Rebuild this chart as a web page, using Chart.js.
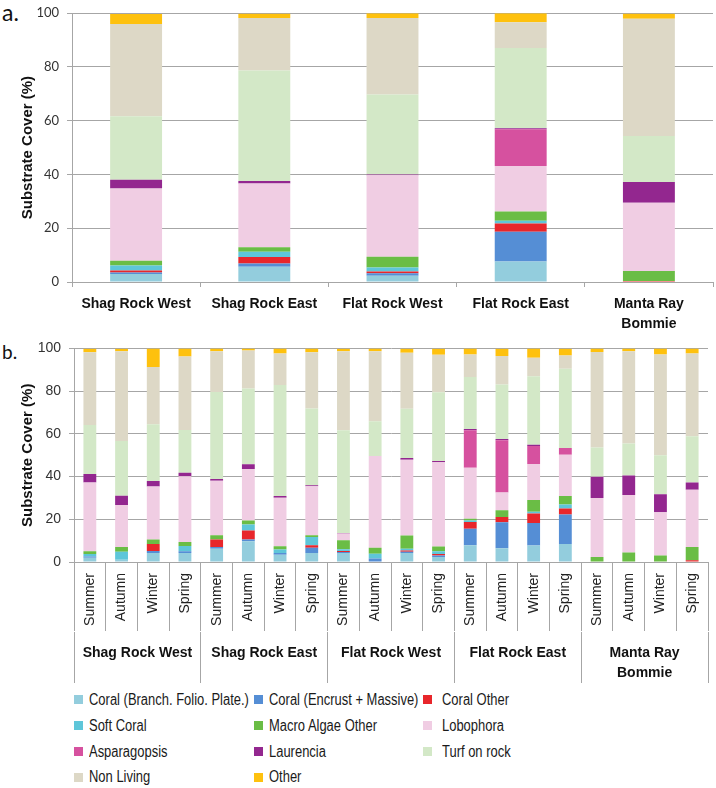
<!DOCTYPE html>
<html>
<head>
<meta charset="utf-8">
<script src="https://cdn.jsdelivr.net/npm/chart.js@4.4.1/dist/chart.umd.min.js"></script>
<style>
  body { margin: 0; background: #fff; width: 716px; height: 788px; overflow: hidden; position: relative; }
  #top { position: absolute; left: 0; top: 0; }
  #bottom { position: absolute; left: 0; top: 335px; }
  .panel { position: absolute; left: 2px; font-family: Lato, sans-serif; color: #111; line-height: 1; }
  /* narrow legend face: no Arial Narrow here, so squeeze Liberation Sans */
  .item { position: absolute; font-family: "Liberation Sans", sans-serif; font-size: 16px; color: #1a1a1a; white-space: nowrap; line-height: 18px; transform: scaleX(0.81); transform-origin: left center; }
  .box { position: absolute; width: 9px; height: 9px; }
</style>
</head>
<body>
<div class="panel" style="top:1px;font-size:23px">a.</div>
<div class="panel" style="top:342px;font-size:19px">b.</div>
<canvas id="top" width="716" height="335"></canvas>
<canvas id="bottom" width="716" height="355"></canvas>
<div id="legend"></div>
<script>
const sites = ['Shag Rock West', 'Shag Rock East', 'Flat Rock West', 'Flat Rock East', ['Manta Ray', 'Bommie']];
const seasons = ['Summer', 'Autumn', 'Winter', 'Spring'];
const seriesNames = ['Coral (Branch. Folio. Plate.)', 'Coral (Encrust + Massive)', 'Coral Other',
  'Soft Coral', 'Macro Algae Other', 'Lobophora', 'Asparagopsis', 'Laurencia',
  'Turf on rock', 'Non Living', 'Other'];
const colours = ['#93CDDD', '#558ED5', '#E8262B', '#5EC6D9', '#6ABD45', '#F0CDE3',
  '#D6519F', '#93278F', '#D3E8C7', '#DDD8C6', '#FEC10E'];

// a. mean cover per site (%)
const coralBranchSite  = [3.0, 5.7, 2.3, 7.6, 0];
const coralEncrustSite = [0.5, 1.2, 1.0, 11.1, 0];
const coralOtherSite   = [0.8, 2.4, 0.6, 3.1, 0.4];
const softCoralSite    = [1.8, 2.0, 1.5, 1.0, 0];
const macroAlgaeSite   = [1.8, 1.6, 4.0, 3.4, 3.7];
const lobophoraSite    = [26.9, 23.7, 30.3, 17.0, 25.4];
const asparagopsisSite = [0, 0, 0, 13.6, 0];
const laurenciaSite    = [3.2, 1.0, 0.3, 0.4, 7.7];
const turfSite         = [23.7, 41.1, 29.8, 29.9, 17.1];
const nonLivingSite    = [34.3, 19.5, 28.4, 9.5, 43.6];
const otherSite        = [3.7, 1.6, 1.8, 3.4, 1.9];

// b. cover per site and season (%), 4 seasons x 5 sites
const coralBranchSeason  = [2.0, 1.1, 4.2, 4.2, 6.2, 9.7, 3.4, 4.2, 4.2, 0, 4.2, 2.3, 7.8, 6.4, 7.7, 8.4, 0, 0, 0, 0];
const coralEncrustSeason = [0.6, 0, 0.9, 0.8, 0.8, 0.9, 0.8, 2.5, 0.5, 1.6, 0.6, 0.8, 7.8, 12.2, 10.6, 13.9, 0, 0, 0, 0];
const coralOtherSeason   = [0, 0, 3.3, 0, 3.6, 4.2, 0, 1.1, 0.5, 0, 0.6, 0.6, 3.1, 2.5, 4.4, 2.8, 0, 0, 0, 0.8];
const softCoralSeason    = [1.2, 3.7, 0, 2.5, 0, 2.8, 1.6, 3.9, 0.8, 2.3, 0.8, 1.3, 0.8, 0, 0.8, 1.9, 0, 0, 0, 0];
const macroAlgaeSeason   = [1.2, 2.2, 2.2, 1.9, 1.9, 1.9, 1.6, 0.8, 4.2, 2.8, 6.2, 2.3, 0.8, 3.1, 5.5, 3.9, 2.3, 4.5, 3.0, 6.2];
const lobophoraSeason    = [32.3, 19.7, 24.8, 30.8, 25.6, 24.1, 22.7, 23.0, 3.1, 43.0, 35.5, 39.4, 23.9, 8.4, 16.9, 19.4, 27.7, 26.9, 20.3, 26.9];
const asparagopsisSeason = [0, 0, 0, 0, 0, 0, 0, 0, 0, 0, 0, 0, 17.5, 24.4, 8.4, 3.1, 0, 0, 0, 0];
const laurenciaSeason    = [3.9, 4.4, 2.5, 1.6, 0.8, 2.2, 0.8, 0.5, 0.3, 0, 0.8, 0.6, 0.6, 0.6, 0.6, 0, 10.0, 9.1, 8.4, 3.3];
const turfSeason         = [23.0, 25.6, 26.6, 20.0, 40.8, 35.5, 52.0, 35.9, 48.1, 16.3, 23.1, 32.3, 24.4, 25.6, 32.2, 37.2, 13.6, 15.0, 18.3, 21.7];
const nonLivingSeason    = [34.1, 42.0, 26.9, 34.5, 19.1, 17.8, 14.8, 26.4, 37.0, 32.8, 26.2, 17.5, 10.5, 13.3, 8.6, 6.2, 44.8, 43.3, 47.2, 38.8];
const otherSeason        = [1.6, 1.2, 8.6, 3.8, 1.2, 0.9, 2.3, 1.7, 1.2, 1.2, 1.9, 2.8, 2.8, 3.4, 4.4, 3.1, 1.6, 1.2, 2.8, 2.3];

const siteSeries = [coralBranchSite, coralEncrustSite, coralOtherSite, softCoralSite, macroAlgaeSite,
  lobophoraSite, asparagopsisSite, laurenciaSite, turfSite, nonLivingSite, otherSite];
const seasonSeries = [coralBranchSeason, coralEncrustSeason, coralOtherSeason, softCoralSeason, macroAlgaeSeason,
  lobophoraSeason, asparagopsisSeason, laurenciaSeason, turfSeason, nonLivingSeason, otherSeason];

const gridGrey = '#A6A6A6';
const bold14 = { family: 'Liberation Sans', size: 14, weight: 'bold', lineHeight: 1.45 };

const makeSets = (series) => series.map((vals, i) => ({
  label: seriesNames[i],
  data: vals,
  backgroundColor: colours[i],
  borderWidth: 0,
  barPercentage: 0.405,
  categoryPercentage: 1
}));

const yAxis = (tickFont, width) => ({
  stacked: true,
  min: 0,
  max: 100,
  ticks: { stepSize: 20, font: tickFont, color: '#333', padding: 8 },
  grid: { color: gridGrey, tickLength: 5 },
  border: { color: gridGrey },
  title: {
    display: true,
    text: 'Substrate Cover (%)',
    color: '#111',
    font: { family: 'Liberation Sans', size: 15, weight: 'bold' },
    padding: { top: 19, bottom: 0 }
  },
  afterFit: (s) => { s.width = width; }
});

const topChart = new Chart(document.getElementById('top'), {
  type: 'bar',
  data: { labels: sites, datasets: makeSets(siteSeries) },
  options: {
    responsive: false,
    animation: false,
    devicePixelRatio: 1,
    layout: { padding: { top: 6, right: 3, bottom: 0, left: 0 } },
    plugins: { legend: { display: false }, tooltip: { enabled: false } },
    scales: {
      x: {
        stacked: true,
        grid: { drawOnChartArea: false, offset: true, tickLength: 5, color: gridGrey },
        border: { color: gridGrey },
        ticks: { font: bold14, color: '#111', padding: 7, maxRotation: 0, autoSkip: false },
        afterFit: (s) => { s.height = 53; }
      },
      y: yAxis({ family: 'Lato', size: 13, lineHeight: 0.8 }, 72)
    }
  }
});

const seasonLabels = [];
sites.forEach(() => seasons.forEach(s => seasonLabels.push(s)));

const bottomChart = new Chart(document.getElementById('bottom'), {
  type: 'bar',
  data: { labels: seasonLabels, datasets: makeSets(seasonSeries) },
  options: {
    responsive: false,
    animation: false,
    devicePixelRatio: 1,
    layout: { padding: { top: 13, right: 8, bottom: 0, left: 0 } },
    plugins: { legend: { display: false }, tooltip: { enabled: false } },
    scales: {
      x: {
        stacked: true,
        grid: { drawOnChartArea: false, offset: true, tickLength: 69, color: gridGrey },
        border: { color: gridGrey },
        ticks: { font: { family: 'Liberation Sans', size: 14 }, color: '#222', minRotation: 90, maxRotation: 90, autoSkip: false, padding: -58 },
        afterFit: (s) => { s.height = 70; }
      },
      x2: {
        type: 'category',
        labels: sites,
        position: 'bottom',
        offset: true,
        grid: { drawOnChartArea: false, offset: true, tickLength: 51, color: gridGrey },
        border: { display: false },
        ticks: { font: bold14, color: '#111', maxRotation: 0, autoSkip: false, padding: -40 },
        afterFit: (s) => { s.height = 58; }
      },
      y: yAxis({ family: 'Liberation Sans', size: 14, lineHeight: 0.8 }, 74)
    }
  }
});

// HTML legend in three columns, built from the chart's own legend items
const legendEl = document.getElementById('legend');
const colBox = [74, 254, 423];
const colText = [89, 269, 442];
const rowMid = [699.7, 725.5, 751.3, 777.1];
Chart.defaults.plugins.legend.labels.generateLabels(bottomChart).forEach((item, i) => {
  const col = i % 3, row = Math.floor(i / 3);
  const box = document.createElement('div');
  box.className = 'box';
  box.style.left = colBox[col] + 'px';
  box.style.top = (rowMid[row] - 4.5) + 'px';
  box.style.background = item.fillStyle;
  const txt = document.createElement('div');
  txt.className = 'item';
  txt.style.left = colText[col] + 'px';
  txt.style.top = (rowMid[row] - 8.8) + 'px';
  txt.textContent = item.text;
  legendEl.appendChild(box);
  legendEl.appendChild(txt);
});
</script>
</body>
</html>
